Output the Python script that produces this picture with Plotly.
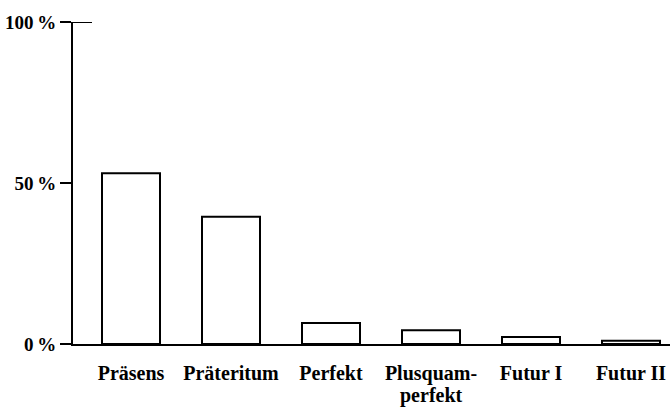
import plotly.graph_objects as go

categories = ["Präsens", "Präteritum", "Perfekt", "Plusquam-", "Futur I", "Futur II"]
category_line2 = ["", "", "", "perfekt", "", ""]
values = [53.0, 39.5, 6.5, 4.3, 2.2, 1.0]
y_tick_vals = [0, 50, 100]
y_tick_text = ["0\u2009%", "50\u2009%", "100\u2009%"]

positions = list(range(len(categories)))

fig = go.Figure()
fig.add_trace(go.Bar(
    x=positions, y=values, width=0.58,
    marker=dict(color="white", line=dict(color="black", width=2)),
    showlegend=False, hoverinfo="skip",
))

font_family = "Liberation Serif, Times New Roman, serif"
label_font = dict(family=font_family, size=20, weight="bold", color="black")

fig.update_layout(
    width=670, height=408,
    margin=dict(l=73, r=0, t=22, b=64),
    paper_bgcolor="white", plot_bgcolor="white",
    font=dict(family=font_family, color="black", size=18),
    xaxis=dict(
        range=[-0.58, 5.39], tickvals=positions, ticktext=categories,
        showline=True, linecolor="black", linewidth=2, automargin=False,
        showgrid=False, zeroline=False, ticks="", ticklabelstandoff=10,
        tickfont=label_font,
    ),
    yaxis=dict(
        range=[0, 100], tickvals=y_tick_vals, ticktext=y_tick_text,
        showline=True, linecolor="black", linewidth=2, automargin=False,
        showgrid=False, zeroline=False, ticks="outside", ticklen=11,
        tickwidth=2, tickcolor="black", ticklabelstandoff=0,
        tickfont=dict(family=font_family, size=19, weight="bold", color="black"),
    ),
)

# second line of wrapped category labels
for pos, txt in zip(positions, category_line2):
    if txt:
        fig.add_annotation(x=pos, xref="x", y=0, yref="paper", yanchor="top",
                           yshift=-38, text=txt, showarrow=False, font=label_font)

# small tick continuing to the right of the axis at 100 %
fig.add_shape(type="line", xref="x", yref="y", x0=-0.58, x1=-0.39, y0=100, y1=100,
              line=dict(color="black", width=2))

fig.write_html("out.html", config={"displayModeBar": False},
               post_script="document.body.style.margin='0';")
